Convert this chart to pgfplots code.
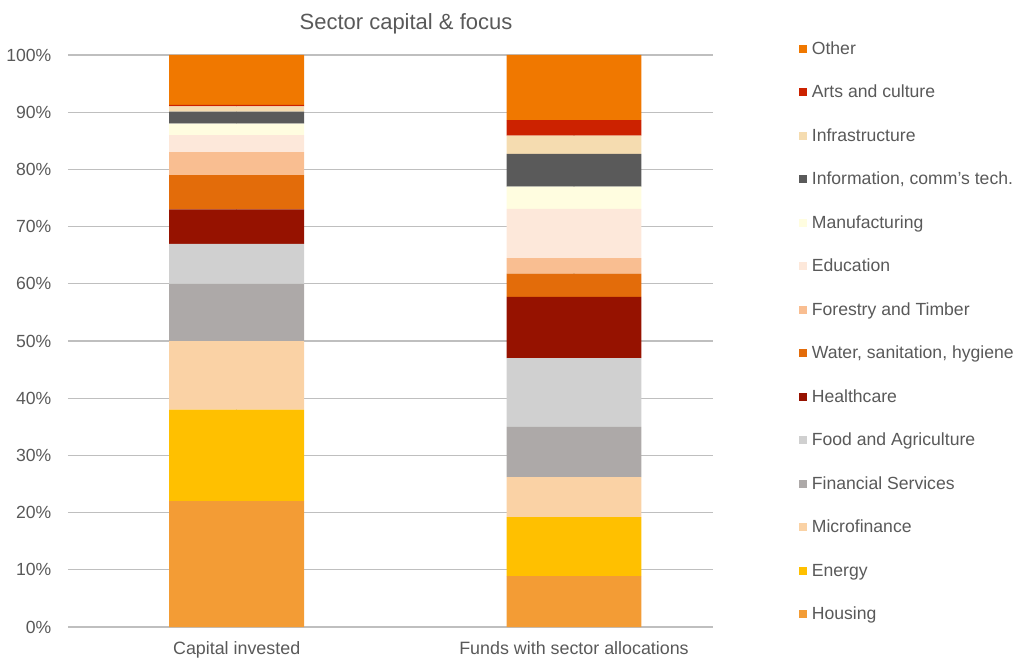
\documentclass[border=0pt]{standalone}
\usepackage{pgfplots}
\pgfplotsset{compat=1.18}
\usepackage{fontspec}
\setmainfont{Liberation Sans}
\definecolor{txt}{HTML}{595959}
\definecolor{grid}{HTML}{D9D9D9}
\definecolor{cOther}{HTML}{F07800}
\definecolor{cArts}{HTML}{CC2200}
\definecolor{cInfra}{HTML}{F5DCB0}
\definecolor{cICT}{HTML}{5A5A5A}
\definecolor{cManu}{HTML}{FFFDE0}
\definecolor{cEdu}{HTML}{FDE8DA}
\definecolor{cForest}{HTML}{F9BE91}
\definecolor{cWater}{HTML}{E36C0A}
\definecolor{cHealth}{HTML}{961200}
\definecolor{cFood}{HTML}{D0D0D0}
\definecolor{cFin}{HTML}{ADA9A8}
\definecolor{cMicro}{HTML}{FAD2A5}
\definecolor{cEnergy}{HTML}{FFC000}
\definecolor{cHousing}{HTML}{F39C35}
\begin{document}
\begin{tikzpicture}
\path (0,0) rectangle (765pt,492pt);
\begin{axis}[
  at={(51pt,21.75pt)}, anchor=south west,
  scale only axis, width=483.75pt, height=429pt,
  ybar stacked, bar width=0.4,
  xmin=-0.5, xmax=1.412, ymin=0, ymax=100,
  axis line style={draw=none},
  ymajorgrids, grid style={grid, line width=0.8pt},
  ytick={0,10,...,100},
  yticklabel={\pgfmathprintnumber{\tick}\%},
  /pgf/number format/assume math mode=true,
  xtick={0,1}, xticklabels={Capital invested, Funds with sector allocations},
  major tick length=0pt,
  tick label style={font=\fontsize{13.2}{15}\selectfont, text=txt},
  xticklabel style={font=\fontsize{13.4}{15}\selectfont, anchor=base, yshift=-20.25pt},
  yticklabel style={anchor=east, xshift=-9pt},
  title={Sector capital \& focus},
  title style={font=\fontsize{16.5}{19}\selectfont, text=txt, at={(0.524,1.0577)}, anchor=center, yshift=-7.5pt},
  legend image code/.code={\fill[#1,draw=none] (0pt,-2.5pt) rectangle (6pt,3.5pt);},
  reverse legend,
  legend cell align=left,
  legend style={draw=none, fill=none, at={(1.127,1.030)}, anchor=north west,
    font=\fontsize{13.2}{15}\selectfont, text=txt,
    nodes={inner sep=0pt, text height=10pt, text depth=3pt},
    row sep=19.625pt,
    /tikz/every odd column/.append style={column sep=3.5pt}},
]
\addplot[fill=cHousing, draw=none] coordinates {(0,22) (1,8.9)};
\addplot[fill=cEnergy, draw=none] coordinates {(0,16) (1,10.3)};
\addplot[fill=cMicro, draw=none] coordinates {(0,12) (1,7)};
\addplot[fill=cFin, draw=none] coordinates {(0,10) (1,8.8)};
\addplot[fill=cFood, draw=none] coordinates {(0,7) (1,12)};
\addplot[fill=cHealth, draw=none] coordinates {(0,6) (1,10.7)};
\addplot[fill=cWater, draw=none] coordinates {(0,6) (1,4.1)};
\addplot[fill=cForest, draw=none] coordinates {(0,4) (1,2.7)};
\addplot[fill=cEdu, draw=none] coordinates {(0,3) (1,8.6)};
\addplot[fill=cManu, draw=none] coordinates {(0,2) (1,3.9)};
\addplot[fill=cICT, draw=none] coordinates {(0,2.1) (1,5.7)};
\addplot[fill=cInfra, draw=none] coordinates {(0,0.9) (1,3.2)};
\addplot[fill=cArts, draw=none] coordinates {(0,0.3) (1,2.7)};
\addplot[fill=cOther, draw=none] coordinates {(0,8.7) (1,11.4)};
\legend{Housing, Energy, Microfinance, Financial Services, Food and Agriculture, Healthcare, {Water, sanitation, hygiene}, Forestry and Timber, Education, Manufacturing, {Information, comm's tech.}, Infrastructure, Arts and culture, Other}
\end{axis}
\end{tikzpicture}
\end{document}
